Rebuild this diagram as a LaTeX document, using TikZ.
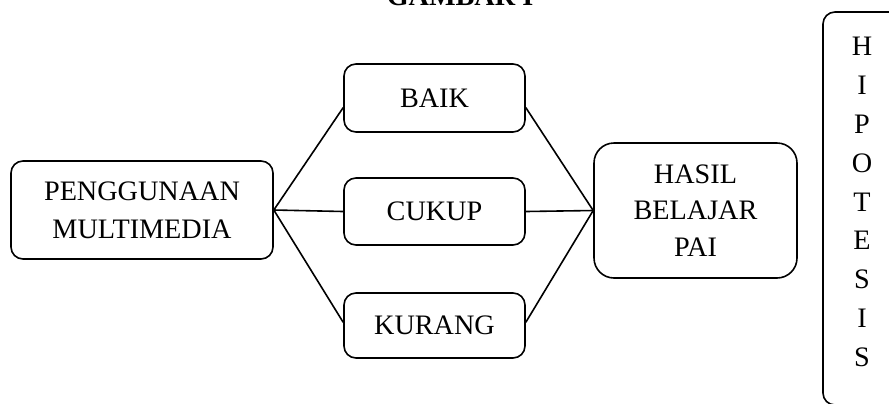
\documentclass[tikz,border=0pt]{standalone}
\usepackage{fontspec}
\setmainfont{Liberation Serif}
\begin{document}
\begin{tikzpicture}[
    x=0.5pt, y=-0.5pt,
    myblock/.style={rectangle, draw, line width=0.8pt, rounded corners=6pt, align=center, inner sep=0pt, font=\fontsize{14.1}{19}\selectfont},
    myline/.style={line width=0.8pt},
]
\useasboundingbox (0,0) rectangle (889,403);

\node[font=\fontsize{14.1}{17}\selectfont\bfseries, anchor=base] (judul) at (460,5) {GAMBAR I};

\node[myblock, minimum width=131pt, minimum height=49pt] (guna) at (142,210) {PENGGUNAAN\\MULTIMEDIA};
\node[myblock, minimum width=90.5pt, minimum height=34pt] (baik) at (434.5,98) {BAIK};
\node[myblock, minimum width=90.5pt, minimum height=33.5pt] (cukup) at (434.5,211.5) {CUKUP};
\node[myblock, minimum width=90.5pt, minimum height=32.5pt] (kurang) at (434.5,325.5) {KURANG};
\node[myblock, rounded corners=10pt, minimum width=101.5pt, minimum height=67.5pt, font=\fontsize{14.1}{18.3}\selectfont] (hasil) at (695.5,210.5) {HASIL\\BELAJAR\\PAI};
\node[myblock, minimum width=41pt, minimum height=196.5pt] (hipo) at (864,208.5) {};
\node[align=center, inner sep=0pt, font=\fontsize{14.1}{19.4}\selectfont] (hipoteks) at (862,202) {H\\I\\P\\O\\T\\E\\S\\I\\S};

\draw[myline] (guna.east) -- (baik.186);
\draw[myline] (guna.east) -- (cukup.west);
\draw[myline] (guna.east) -- (kurang.178);
\draw[myline] (baik.354) -- (hasil.west);
\draw[myline] (cukup.east) -- (hasil.west);
\draw[myline] (kurang.2) -- (hasil.west);
\end{tikzpicture}
\end{document}
